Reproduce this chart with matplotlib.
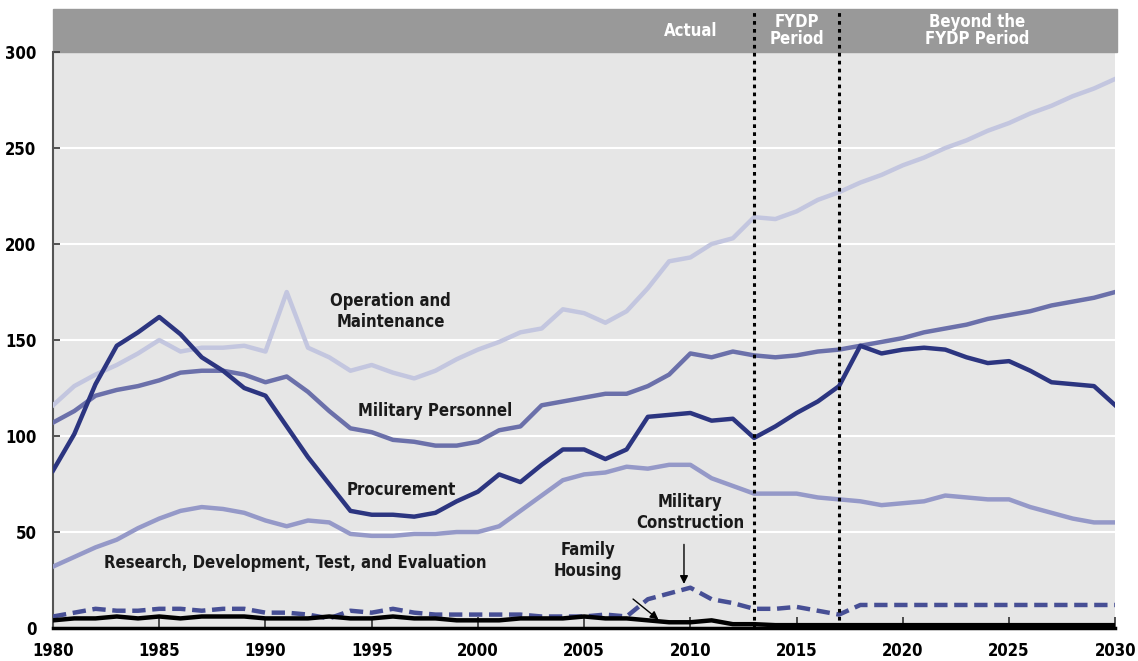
import numpy as np
import matplotlib.pyplot as plt
from matplotlib.patches import Rectangle

years = list(range(1980, 2031))

# billions of dollars
om = [116, 126, 132, 137, 143, 150, 144, 146, 146, 147, 144, 175, 146, 141, 134, 137,
      133, 130, 134, 140, 145, 149, 154, 156, 166, 164, 159, 165, 177, 191, 193, 200,
      203, 214, 213, 217, 223, 227, 232, 236, 241, 245, 250, 254, 259, 263, 268, 272,
      277, 281, 286]
milpers = [107, 113, 121, 124, 126, 129, 133, 134, 134, 132, 128, 131, 123, 113, 104, 102,
           98, 97, 95, 95, 97, 103, 105, 116, 118, 120, 122, 122, 126, 132, 143, 141,
           144, 142, 141, 142, 144, 145, 147, 149, 151, 154, 156, 158, 161, 163, 165, 168,
           170, 172, 175]
procurement = [82, 101, 127, 147, 154, 162, 153, 141, 134, 125, 121, 105, 89, 75, 61, 59,
               59, 58, 60, 66, 71, 80, 76, 85, 93, 93, 88, 93, 110, 111, 112, 108,
               109, 99, 105, 112, 118, 126, 147, 143, 145, 146, 145, 141, 138, 139, 134, 128,
               127, 126, 116]
rdte = [32, 37, 42, 46, 52, 57, 61, 63, 62, 60, 56, 53, 56, 55, 49, 48,
        48, 49, 49, 50, 50, 53, 61, 69, 77, 80, 81, 84, 83, 85, 85, 78,
        74, 70, 70, 70, 68, 67, 66, 64, 65, 66, 69, 68, 67, 67, 63, 60,
        57, 55, 55]
milcon = [6, 8, 10, 9, 9, 10, 10, 9, 10, 10, 8, 8, 7, 5, 9, 8,
          10, 8, 7, 7, 7, 7, 7, 6, 6, 6, 7, 6, 15, 18, 21, 15,
          13, 10, 10, 11, 9, 7, 12, 12, 12, 12, 12, 12, 12, 12, 12, 12,
          12, 12, 12]
famhousing = [4, 5, 5, 6, 5, 6, 5, 6, 6, 6, 5, 5, 5, 6, 5, 5,
              6, 5, 5, 4, 4, 4, 5, 5, 5, 6, 5, 5, 4, 3, 3, 4,
              2, 2, 1.5, 1.5, 1.5, 1.5, 1.5, 1.5, 1.5, 1.5, 1.5, 1.5, 1.5, 1.5, 1.5, 1.5,
              1.5, 1.5, 1.5]

yticks = [0, 50, 100, 150, 200, 250, 300]
xticks = [1980, 1985, 1990, 1995, 2000, 2005, 2010, 2015, 2020, 2025, 2030]

plt.rcParams['font.family'] = ['DejaVu Sans']
bold = dict(fontweight='bold', fontstretch='condensed')

fig = plt.figure(figsize=(11.38, 6.61), dpi=100)
ax = fig.add_axes([0.0466, 0.0499, 0.9334, 0.8714])
ax.set_facecolor('#e6e6e6')
ax.set_xlim(1980, 2030)
ax.set_ylim(0, 300)

for y in yticks[1:-1]:
    ax.axhline(y, color='white', lw=1.5, zorder=1)

ax.plot(years, om, color='#c3c6df', lw=3.2, zorder=3)
ax.plot(years, milpers, color='#6b70aa', lw=3.2, zorder=3)
ax.plot(years, rdte, color='#9599c8', lw=3.2, zorder=3)
ax.plot(years, procurement, color='#2c3580', lw=3.2, zorder=4)
ax.plot(years, milcon, color='#474f95', lw=3.2, ls=(0, (3, 1.5)), zorder=3)
ax.plot(years, famhousing, color='black', lw=3.2, zorder=4)

# header band
ax.add_patch(Rectangle((0, 1), 1.002, 0.0747, transform=ax.transAxes,
                       color='#999999', clip_on=False, zorder=0))
for x in [2013, 2017]:
    ax.axvline(x, ymin=0, ymax=1.0747, color='black', lw=2.2,
               ls=(0, (1.2, 1.4)), clip_on=False, zorder=5)

ax.text(2010.0, 1.037, 'Actual', transform=ax.get_xaxis_transform(), ha='center',
        va='center', color='white', fontsize=12, **bold)
ax.text(2015.0, 1.037, 'FYDP\nPeriod', transform=ax.get_xaxis_transform(), ha='center',
        va='center', color='white', fontsize=12, linespacing=0.95, **bold)
ax.text(2023.5, 1.037, 'Beyond the\nFYDP Period', transform=ax.get_xaxis_transform(),
        ha='center', va='center', color='white', fontsize=12, linespacing=0.95, **bold)

# series labels
lab = dict(ha='center', va='center', fontsize=12, color='#1a1a1a', linespacing=1.2, **bold)
ax.text(1995.9, 165, 'Operation and\nMaintenance', **lab)
ax.text(1998.0, 113, 'Military Personnel', **lab)
ax.text(1996.4, 72, 'Procurement', **lab)
ax.text(1991.4, 34, 'Research, Development, Test, and Evaluation', **lab)
ax.text(2010.0, 60, 'Military\nConstruction', **lab)
ax.text(2005.2, 35, 'Family\nHousing', **lab)
ax.annotate('', xy=(2009.7, 21.5), xytext=(2009.7, 45),
            arrowprops=dict(arrowstyle='-|>', color='black', lw=1, mutation_scale=12))
ax.annotate('', xy=(2008.6, 3.5), xytext=(2007.2, 16),
            arrowprops=dict(arrowstyle='-|>', color='black', lw=1, mutation_scale=12))

ax.set_xticks(xticks)
ax.set_yticks(yticks)
ax.set_xticklabels([str(x) for x in xticks], fontsize=12, **bold)
ax.set_yticklabels([str(y) for y in yticks], fontsize=12, **bold)
ax.tick_params(axis='x', direction='in', length=8, width=1.2, color='#333333', pad=10)
ax.tick_params(axis='y', direction='in', length=5, width=1.2, color='#333333', pad=12)

for s in ['top', 'right']:
    ax.spines[s].set_visible(False)
ax.spines['left'].set_color('#555555')
ax.spines['left'].set_linewidth(1.5)
ax.spines['bottom'].set_color('black')
ax.spines['bottom'].set_linewidth(2.5)
ax.spines['bottom'].set_zorder(6)

fig.savefig('out.png', dpi=100)
